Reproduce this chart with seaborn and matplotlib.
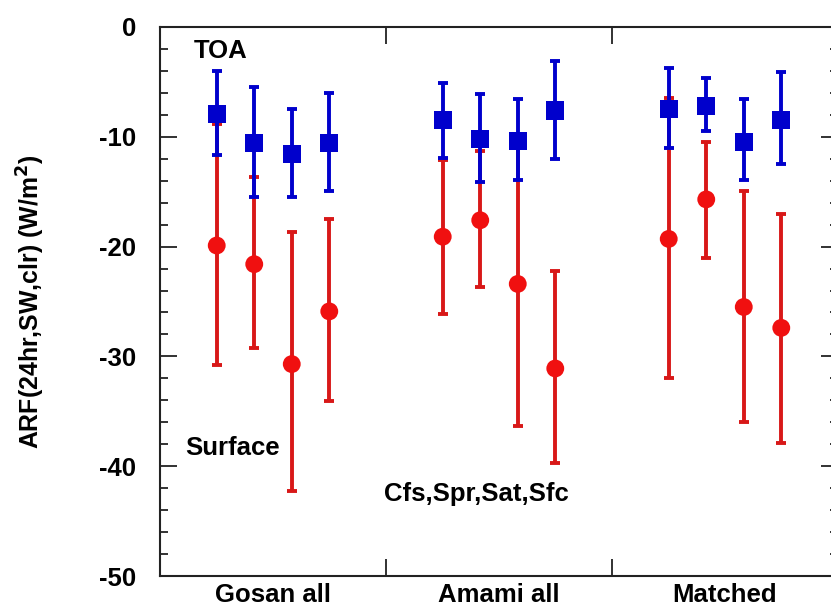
import numpy as np
import pandas as pd
import seaborn as sns
import matplotlib.pyplot as plt
from matplotlib.ticker import MultipleLocator

# values (4 cases per site: Cfs, Spr, Sat, Sfc)
sites = ['Gosan all', 'Amami all', 'Matched']
cases = ['Cfs', 'Spr', 'Sat', 'Sfc']

toa_mean = [-7.9, -10.6, -11.6, -10.6,
            -8.5, -10.2, -10.4, -7.6,
            -7.5, -7.2, -10.5, -8.5]
toa_lo = [-11.7, -15.5, -15.5, -14.9,
          -11.9, -14.1, -13.9, -12.0,
          -11.0, -9.5, -13.9, -12.5]
toa_hi = [-4.0, -5.5, -7.5, -6.0,
          -5.1, -6.1, -6.6, -3.1,
          -3.7, -4.6, -6.6, -4.1]

sfc_mean = [-19.9, -21.6, -30.7, -25.9,
            -19.1, -17.6, -23.4, -31.1,
            -19.3, -15.7, -25.5, -27.4]
sfc_lo = [-30.8, -29.2, -42.3, -34.1,
          -26.1, -23.7, -36.3, -39.7,
          -32.0, -21.0, -36.0, -37.9]
sfc_hi = [-8.8, -13.7, -18.7, -17.5,
          -12.1, -11.3, -10.5, -22.2,
          -6.5, -10.5, -14.9, -17.0]

df = pd.DataFrame({
    'site': np.repeat(sites, len(cases)),
    'case': cases * len(sites),
    'toa': toa_mean, 'toa_lo': toa_lo, 'toa_hi': toa_hi,
    'sfc': sfc_mean, 'sfc_lo': sfc_lo, 'sfc_hi': sfc_hi,
})
# dodge the four cases inside each site
step = 0.166
df['x'] = df['site'].map({s: i for i, s in enumerate(sites)}) + \
    df['case'].map({c: (j - 1.5) * step for j, c in enumerate(cases)})

sns.set_style('ticks')
plt.rcParams['font.family'] = ['Liberation Sans', 'DejaVu Sans']
plt.rcParams['font.weight'] = 'bold'
plt.rcParams['axes.unicode_minus'] = False
for k in ['text.color', 'axes.labelcolor', 'xtick.color', 'ytick.color']:
    plt.rcParams[k] = 'black'

fs = 18.5
fig = plt.figure(figsize=(8.31, 6.12), dpi=100)
ax = fig.add_axes([160 / 831, 36 / 612, 678 / 831, 549 / 612])

blue = '#0000cc'

ax.errorbar(df['x'], df['sfc'],
            yerr=[df['sfc'] - df['sfc_lo'], df['sfc_hi'] - df['sfc']],
            fmt='none', ecolor='#d81818', elinewidth=2.8, capsize=3.8, capthick=2.8, zorder=2)
ax.errorbar(df['x'], df['toa'],
            yerr=[df['toa'] - df['toa_lo'], df['toa_hi'] - df['toa']],
            fmt='none', ecolor=blue, elinewidth=2.8, capsize=3.8, capthick=2.8, zorder=3)
sns.scatterplot(data=df, x='x', y='sfc', ax=ax, marker='o', s=165, color='#f01010',
                edgecolor='none', zorder=4)
sns.scatterplot(data=df, x='x', y='toa', ax=ax, marker='s', s=170, color=blue,
                edgecolor='none', zorder=5)

ax.set_xlim(-0.5, 2.5)
ax.set_ylim(-50, 0)
ax.set_xticks([0, 1, 2])
ax.set_xticklabels(sites, fontsize=fs, fontweight='bold')
ax.set_xticks([0.5, 1.5], minor=True)
ax.tick_params(axis='x', which='major', length=0, pad=5)
ax.tick_params(axis='x', which='minor', direction='in', length=12, width=1.3,
               top=True, bottom=True, color='#222222')
ax.yaxis.set_major_locator(MultipleLocator(10))
ax.yaxis.set_minor_locator(MultipleLocator(2))
ax.tick_params(axis='y', which='major', direction='in', length=12, width=1.3,
               labelsize=fs, left=True, right=True, pad=17, color='#222222')
ax.tick_params(axis='y', which='minor', direction='in', length=6, width=1.3,
               left=True, right=True, color='#222222')
for lab in ax.get_yticklabels():
    lab.set_fontweight('bold')
for sp in ax.spines.values():
    sp.set_visible(True)
    sp.set_linewidth(1.5)
    sp.set_color('#222222')

ax.set_xlabel('')
ax.set_ylabel('ARF(24hr,SW,clr) (W/m$^\\mathbf{2}$)', fontsize=fs * 0.97,
              fontweight='bold')
ax.yaxis.set_label_coords((47 - 160) / 678, 0.5)

ax.text(-0.35, -2.82, 'TOA', fontsize=fs, fontweight='bold', va='baseline')
ax.text(-0.39, -38.98, 'Surface', fontsize=fs, fontweight='bold', va='baseline')
ax.text(0.49, -43.2, 'Cfs,Spr,Sat,Sfc', fontsize=fs, fontweight='bold', va='baseline')

fig.savefig('out.png', dpi=100)
